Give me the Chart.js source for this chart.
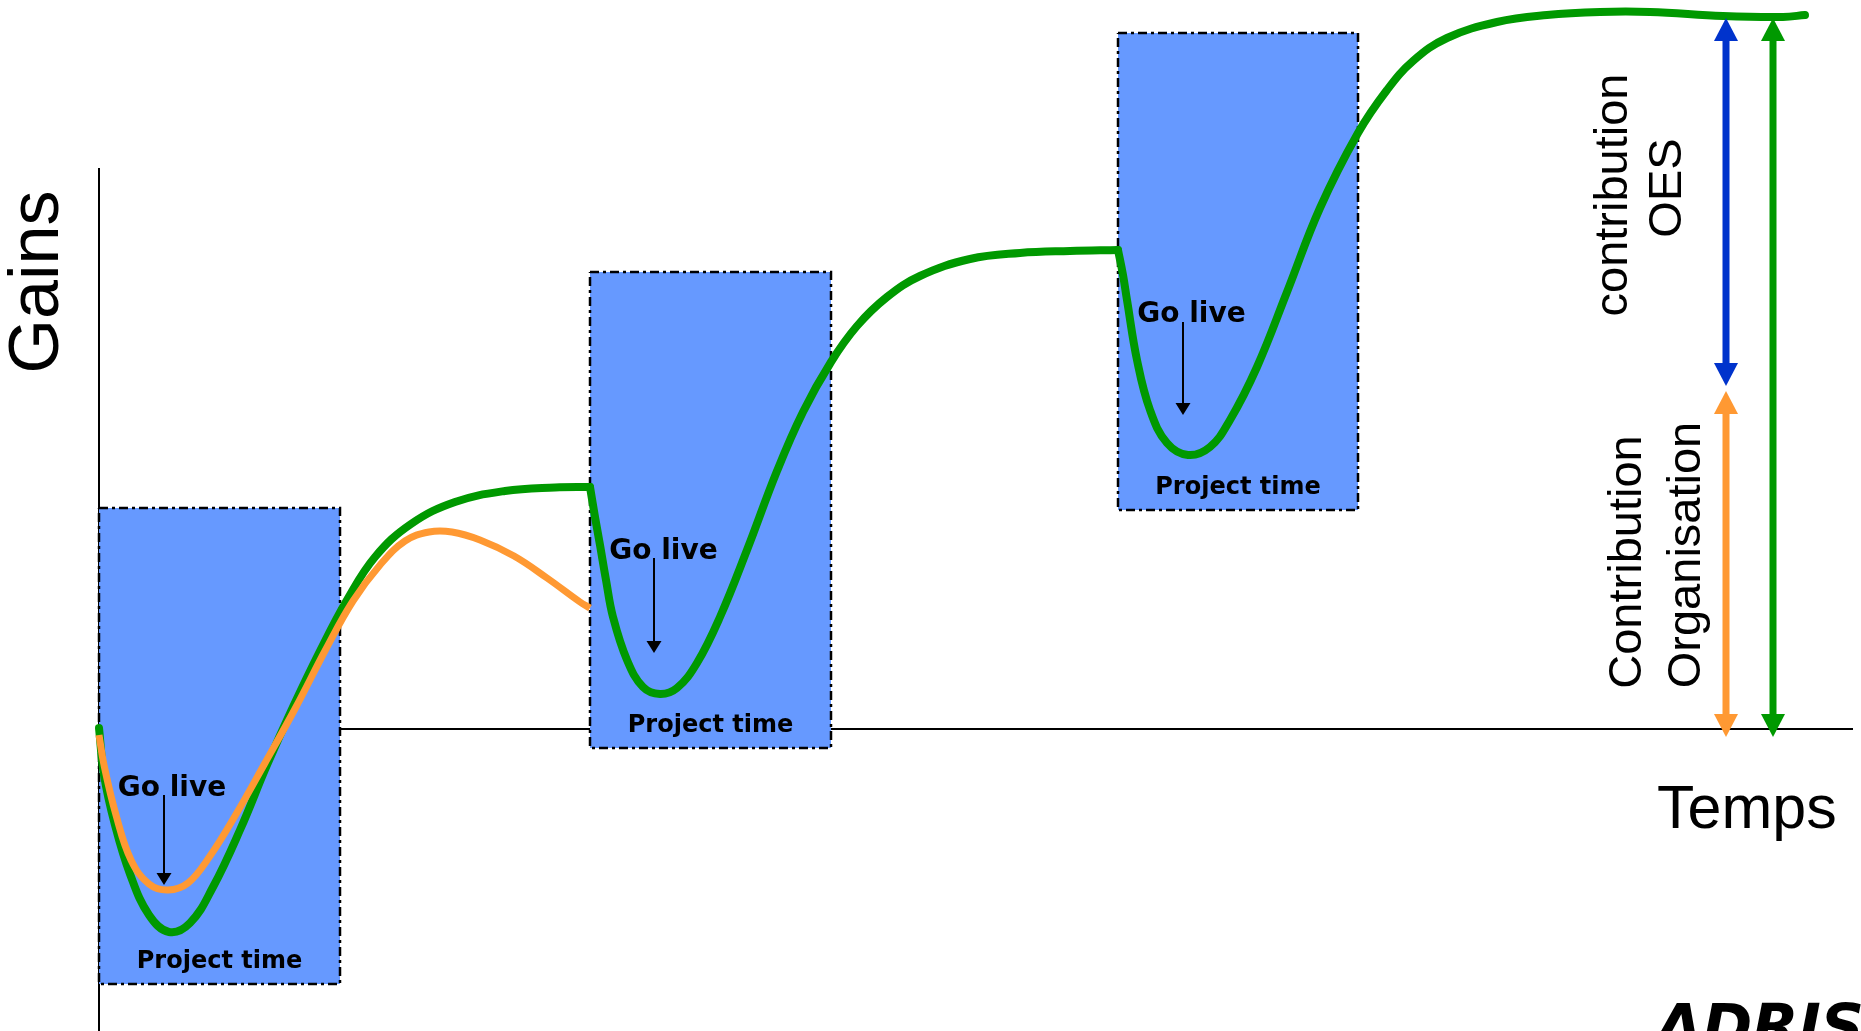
<!DOCTYPE html>
<html>
<head>
<meta charset="utf-8">
<script src="https://cdn.jsdelivr.net/npm/chart.js@4.4.1/dist/chart.umd.min.js"></script>
<style>
html,body{margin:0;padding:0;background:#ffffff;overflow:hidden}
canvas{display:block}
</style>
</head>
<body>
<canvas id="c" width="1861" height="1031"></canvas>
<script>
// ---------- data (time units on x, gain units on y; 0 = the axes) ----------
// green "with OES" curve, one array pair per phase (they meet at each go-live corner)
const greenTime1 = [0, 0.5, 1.6, 3.1, 5.0, 7.0, 9.1, 11.4, 14.1, 16.8,
  19.4, 22.1, 24.8, 27.6, 31.2, 35.6, 40.6, 45.6, 49.1];
const greenGain1 = [0.1, -4.6, -9.6, -14.5, -18.6, -20.3, -19.4, -15.8, -10.1, -3.6,
  2.2, 7.8, 12.9, 17.2, 20.5, 22.7, 23.8, 24.15, 24.2];

const greenTime2 = [49.1, 49.6, 50.1, 50.7, 51.4, 52.8, 54.4, 56.1, 57.8, 59.8,
  62.1, 64.8, 67.8, 70.4, 73.2, 75.8, 78.8, 82.1, 87.1, 92.1, 97.1, 101.9];
const greenGain2 = [24.2, 21.2, 18.4, 14.9, 11.2, 6.9, 4.2, 3.5, 4.1, 6.6,
  11.2, 17.9, 25.8, 31.7, 36.7, 40.3, 43.2, 45.3, 47.0, 47.6, 47.8, 47.9];

const greenTime3 = [101.9, 102.4, 102.8, 103.8, 105.1, 106.8, 108.9, 111.1, 113.1, 115.8,
  118.8, 122.1, 125.9, 128.8, 131.4, 134.8, 139.8, 144.8, 150.1, 155.1, 162.4, 168.4, 170.6];
const greenGain3 = [47.9, 45.4, 42.9, 36.9, 31.9, 28.6, 27.4, 28.2, 30.9, 36.2,
  43.7, 52.1, 59.6, 63.9, 66.8, 69.1, 70.7, 71.4, 71.7, 71.7, 71.3, 71.2, 71.4];

// orange "organisation only" curve
const orangeTime = [0, 0.5, 1.7, 3.2, 5.0, 6.9, 8.9, 11.1, 13.6, 16.6,
  19.7, 22.7, 25.4, 28.1, 30.6, 33.0, 35.3, 38.1, 41.5, 44.8, 48.1, 49.1];
const orangeGain = [-0.6, -3.6, -8.6, -13.1, -15.5, -16.1, -15.4, -12.7, -8.7, -3.4,
  2.2, 8.0, 12.8, 16.4, 18.8, 19.7, 19.7, 18.9, 17.3, 15.1, 12.7, 12.1];

// project-time boxes
const boxStart = [0, 49.1, 101.9];
const boxEnd = [24.1, 73.2, 125.9];
const boxHigh = [22.1, 45.7, 69.6];
const boxLow = [-25.5, -1.9, 21.9];

// "Go live" arrows
const goLiveTime = [6.5, 55.5, 108.4];
const goLiveFrom = [-6.6, 17.1, 40.7];
const goLiveTo = [-15.6, 7.6, 31.4];

// contribution arrows (OES, Organisation, total)
const contribTime = [162.7, 162.7, 167.4];
const contribTop = [71.1, 33.8, 71.1];
const contribBottom = [34.3, -0.8, -0.8];

// axes extents
const axisTimeEnd = 175.4;
const axisGainTop = 56.1;

// texts
const goLiveText = 'Go live';
const projectText = 'Project time';

// ---------- styles / layout ----------
const X_MIN = -9.9, X_MAX = 176.2, Y_MIN = -30.2, Y_MAX = 72.9;
const GREEN = '#009900', ORANGE = '#FF9933', BLUE_BOX = '#6699FF', BLUE_ARROW = '#0033CC';
const contribColors = [BLUE_ARROW, ORANGE, GREEN];

const goLiveLabelPos = [[7.3, -6.7], [56.45, 17.0], [109.25, 40.7]];

const textLabels = [
  {text: 'Gains', x: -4.1, y: 44.7, rot: true, font: '70px "Liberation Sans", Arial, sans-serif'},
  {text: 'Temps', x: 155.8, y: -9.9, rot: false, align: 'left', font: '61px "Liberation Sans", Arial, sans-serif'},
  {text: 'contribution', x: 152.8, y: 53.4, rot: true, font: '47px "Liberation Sans", Arial, sans-serif'},
  {text: 'OES', x: 158.2, y: 54.1, rot: true, font: '47px "Liberation Sans", Arial, sans-serif'},
  {text: 'Contribution', x: 154.2, y: 16.7, rot: true, font: '47px "Liberation Sans", Arial, sans-serif'},
  {text: 'Organisation', x: 160.1, y: 17.4, rot: true, font: '47px "Liberation Sans", Arial, sans-serif'},
  {text: 'ADRISO', x: 155.7, y: -31.8, rot: false, align: 'left', font: 'italic bold 60px "DejaVu Sans", sans-serif'}
];

// ---------- datasets ----------
const pts = (xs, ys) => xs.map((x, i) => ({x: x, y: ys[i]}));
const datasets = [];

datasets.push({ data: [{x: 0, y: 0}, {x: axisTimeEnd, y: 0}], borderColor: '#000', borderWidth: 2, order: 10, tension: 0 });
datasets.push({ data: [{x: 0, y: axisGainTop}, {x: 0, y: Y_MIN}], borderColor: '#000', borderWidth: 2, order: 10, tension: 0 });

boxStart.forEach((b, i) => {
  datasets.push({
    data: [{x: boxStart[i], y: boxHigh[i]}, {x: boxEnd[i], y: boxHigh[i]}],
    borderColor: 'rgba(0,0,0,0)', borderWidth: 1, backgroundColor: BLUE_BOX,
    fill: {value: boxLow[i]}, order: 9, tension: 0
  });
  datasets.push({
    data: [{x: boxStart[i], y: boxHigh[i]}, {x: boxEnd[i], y: boxHigh[i]}, {x: boxEnd[i], y: boxLow[i]},
           {x: boxStart[i], y: boxLow[i]}, {x: boxStart[i], y: boxHigh[i]}],
    borderColor: '#000', borderWidth: 2.5, borderDash: [9, 4, 3, 4], fill: false, order: 8, tension: 0
  });
});

[[greenTime1, greenGain1], [greenTime2, greenGain2], [greenTime3, greenGain3]].forEach(p => {
  datasets.push({ data: pts(p[0], p[1]), borderColor: GREEN, borderWidth: 8, tension: 0.4,
    fill: false, order: 3, borderCapStyle: 'round', borderJoinStyle: 'round' });
});
datasets.push({ data: pts(orangeTime, orangeGain), borderColor: ORANGE, borderWidth: 7, tension: 0.4,
  fill: false, order: 2, borderCapStyle: 'butt', borderJoinStyle: 'round' });

// ---------- annotation plugin (arrows + texts through the scales) ----------
function drawArrow(ctx, x, y1, y2, o) {
  const dir = Math.sign(y2 - y1);
  const s = o.start ? y1 + dir * o.headLen * 0.8 : y1;
  const e = o.end ? y2 - dir * o.headLen * 0.8 : y2;
  ctx.strokeStyle = o.color; ctx.lineWidth = o.shaft; ctx.lineCap = 'butt';
  ctx.beginPath(); ctx.moveTo(x, s); ctx.lineTo(x, e); ctx.stroke();
  ctx.fillStyle = o.color;
  const head = (tipY, d) => {
    ctx.beginPath();
    ctx.moveTo(x, tipY);
    ctx.lineTo(x - o.headWidth / 2, tipY - d * o.headLen);
    ctx.lineTo(x + o.headWidth / 2, tipY - d * o.headLen);
    ctx.closePath(); ctx.fill();
  };
  if (o.end) head(y2, dir);
  if (o.start) head(y1, -dir);
}

const annotPlugin = {
  id: 'annot',
  afterDatasetsDraw(chart) {
    const ctx = chart.ctx;
    const X = v => chart.scales.x.getPixelForValue(v);
    const Y = v => chart.scales.y.getPixelForValue(v);
    ctx.save();
    ctx.fillStyle = '#000';
    ctx.font = 'bold 24px "DejaVu Sans", Verdana, sans-serif';
    ctx.textAlign = 'center'; ctx.textBaseline = 'alphabetic';
    boxStart.forEach((b, i) => {
      ctx.fillText(projectText, X((boxStart[i] + boxEnd[i]) / 2), Y(boxLow[i]) - 16);
    });
    ctx.font = 'bold 28px "DejaVu Sans", Verdana, sans-serif';
    goLiveLabelPos.forEach(p => { ctx.fillStyle = '#000'; ctx.fillText(goLiveText, X(p[0]), Y(p[1])); });
    goLiveTime.forEach((t, i) => {
      drawArrow(ctx, X(t), Y(goLiveFrom[i]), Y(goLiveTo[i]),
        {color: '#000', shaft: 2, headLen: 12, headWidth: 15, start: false, end: true});
    });
    contribTime.forEach((t, i) => {
      drawArrow(ctx, X(t), Y(contribTop[i]), Y(contribBottom[i]),
        {color: contribColors[i], shaft: 7, headLen: 23, headWidth: 24, start: true, end: true});
    });
    textLabels.forEach(l => {
      ctx.save();
      ctx.fillStyle = '#000';
      ctx.font = l.font;
      ctx.textBaseline = 'alphabetic';
      ctx.textAlign = l.align || 'center';
      ctx.translate(X(l.x), Y(l.y));
      if (l.rot) ctx.rotate(-Math.PI / 2);
      ctx.fillText(l.text, 0, 0);
      ctx.restore();
    });
    ctx.restore();
  }
};

new Chart(document.getElementById('c'), {
  type: 'line',
  data: { datasets: datasets },
  options: {
    responsive: false,
    animation: false,
    devicePixelRatio: 1,
    events: [],
    layout: { padding: 0 },
    elements: { point: { radius: 0, hoverRadius: 0 }, line: { fill: false } },
    plugins: { legend: { display: false }, tooltip: { enabled: false }, title: { display: false } },
    scales: {
      x: { type: 'linear', min: X_MIN, max: X_MAX, display: false },
      y: { type: 'linear', min: Y_MIN, max: Y_MAX, display: false }
    }
  },
  plugins: [annotPlugin]
});
</script>
</body>
</html>
